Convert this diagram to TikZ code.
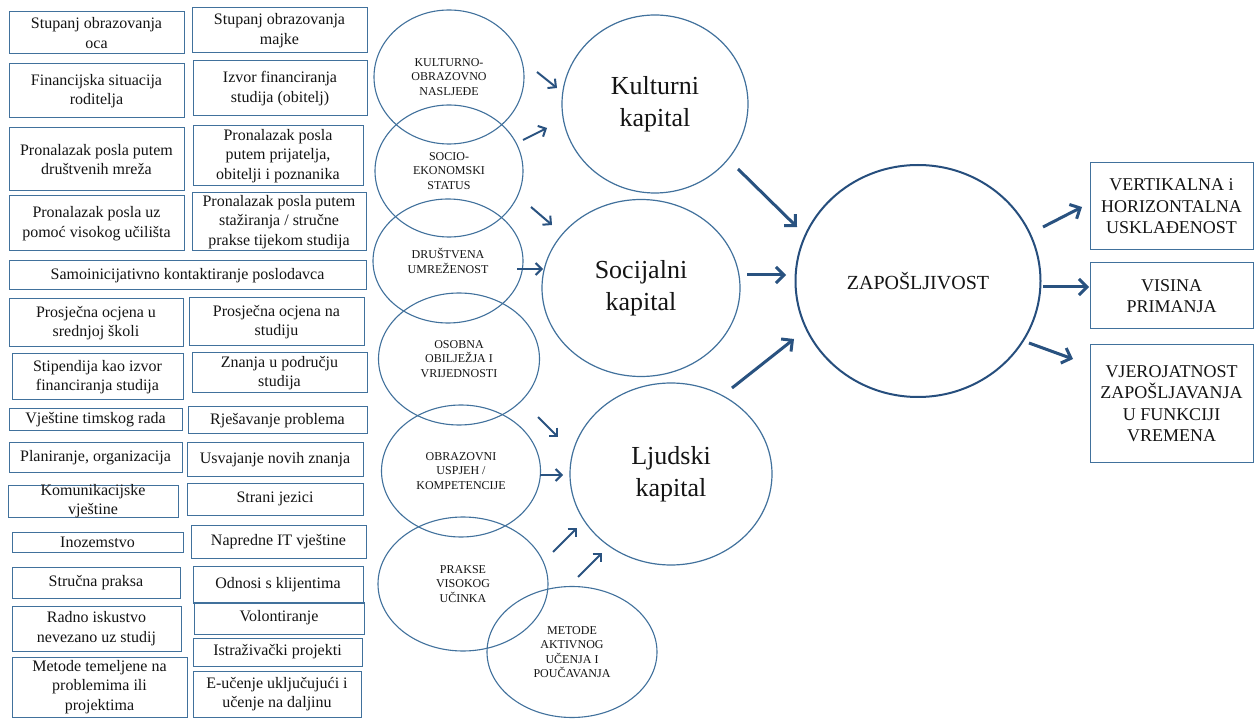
\documentclass[tikz,border=0pt]{standalone}
\usepackage{fontspec}
\setmainfont{Liberation Serif}
\usetikzlibrary{shapes.geometric,arrows.meta}
\definecolor{bordc}{RGB}{65,113,156}
\definecolor{arrc}{RGB}{41,82,128}
\definecolor{zapc}{RGB}{38,78,125}
\definecolor{txtc}{RGB}{20,20,20}
\newcommand\mybox[6]{%
  \pgfmathsetmacro\cx{(#2+#4)/2}\pgfmathsetmacro\cy{(#3+#5)/2}%
  \pgfmathsetmacro\bw{#4-#2}\pgfmathsetmacro\bh{#5-#3}%
  \node[lbox,minimum width=\bw pt,minimum height=\bh pt,label={[ltext]center:{#6}}] (#1) at (\cx,\cy) {};}
\newcommand\mrbox[6]{%
  \pgfmathsetmacro\cx{(#2+#4)/2}\pgfmathsetmacro\cy{(#3+#5)/2}%
  \pgfmathsetmacro\bw{#4-#2}\pgfmathsetmacro\bh{#5-#3}%
  \node[lbox,minimum width=\bw pt,minimum height=\bh pt,label={[rtext]center:{#6}}] (#1) at (\cx,\cy) {};}
\begin{document}
\begin{tikzpicture}[x=1pt,y=-1pt,
  lbox/.style={draw=bordc,line width=1pt,inner sep=0pt,rectangle},
  ltext/.style={inner sep=0pt,align=center,text=txtc,font=\fontsize{16}{19.5}\selectfont},
  rtext/.style={inner sep=0pt,align=center,text=txtc,font=\fontsize{18}{21.5}\selectfont},
  sell/.style={ellipse,draw=bordc,line width=1.1pt,inner sep=0pt,align=center,text=txtc,font=\fontsize{12}{14.5}\selectfont},
  bell/.style={ellipse,draw=bordc,line width=1.2pt,inner sep=0pt,align=center,text=txtc,font=\fontsize{26}{32}\selectfont},
  zell/.style={ellipse,draw=zapc,line width=2pt,inner sep=0pt,align=center,text=txtc,font=\fontsize{20}{24}\selectfont},
  sarr/.style={draw=arrc,line width=2pt,-{Straight Barb[length=6pt,width=12pt]}},
  barr/.style={draw=arrc,line width=3pt,-{Straight Barb[length=8pt,width=16pt]}}]
\fill[white] (0,0) rectangle (1254,719);
\useasboundingbox (0,0) rectangle (1254,719);
% left boxes
\mybox{b1}{9}{12}{184}{54}{Stupanj obrazovanja\\oca}
\mybox{b2}{192}{8}{367}{53}{Stupanj obrazovanja\\majke}
\mybox{b3}{9}{64}{184}{118}{Financijska situacija\\roditelja}
\mybox{b4}{193}{61}{367}{116}{Izvor financiranja\\studija (obitelj)}
\mybox{b5}{9}{128}{184}{191}{Pronalazak posla putem\\društvenih mreža}
\mybox{b6}{193}{126}{363}{186}{Pronalazak posla\\putem prijatelja,\\obitelji i poznanika}
\mybox{b7}{9}{196}{184}{251}{Pronalazak posla uz\\pomoć visokog učilišta}
\mybox{b8}{192}{193}{366}{251}{Pronalazak posla putem\\stažiranja / stručne\\prakse tijekom studija}
\mybox{b9}{9}{261}{366}{290}{Samoinicijativno kontaktiranje poslodavca}
\mybox{b10}{9}{299}{183}{347}{Prosječna ocjena u\\srednjoj školi}
\mybox{b11}{189}{298}{364}{346}{Prosječna ocjena na\\studiju}
\mybox{b12}{12}{354}{183}{400}{Stipendija kao izvor\\financiranja studija}
\mybox{b13}{192}{353}{367}{393}{Znanja u području\\studija}
\mybox{b14}{9}{409}{182}{431}{Vještine timskog rada}
\mybox{b15}{188}{407}{367}{434}{Rješavanje problema}
\mybox{b16}{9}{443}{182}{472}{Planiranje, organizacija}
\mybox{b17}{187}{443}{363}{476}{Usvajanje novih znanja}
\mybox{b18}{8}{485}{178}{517}{Komunikacijske\\vještine}
\mybox{b19}{187}{483}{363}{515}{Strani jezici}
\mybox{b20}{12}{532}{183}{552}{Inozemstvo}
\mybox{b21}{191}{525}{366}{558}{Napredne IT vještine}
\mybox{b22}{12}{567}{180}{598}{Stručna praksa}
\mybox{b23}{193}{566}{363}{603}{Odnosi s klijentima}
\mybox{b24}{12}{606}{181}{651}{Radno iskustvo\\nevezano uz studij}
\mybox{b25}{194}{602}{364}{634}{Volontiranje}
\mybox{b26}{193}{638}{362}{666}{Istraživački projekti}
\mybox{b27}{12}{657}{187}{717}{Metode temeljene na\\problemima ili\\projektima}
\mybox{b28}{193}{671}{361}{717}{E-učenje uključujući i\\učenje na daljinu}
% small ellipses
\node[sell,minimum width=150pt,minimum height=134pt] (e1) at (449,77) {KULTURNO-\\OBRAZOVNO\\NASLJEĐE};
\node[sell,minimum width=148pt,minimum height=132pt] (e2) at (449,171) {SOCIO-\\EKONOMSKI\\STATUS};
\node[sell,minimum width=150pt,minimum height=124pt] (e3) at (448,261) {DRUŠTVENA\\UMREŽENOST};
\node[sell,minimum width=161pt,minimum height=132pt] (e4) at (459,359) {OSOBNA\\OBILJEŽJA I\\VRIJEDNOSTI};
\node[sell,minimum width=159pt,minimum height=132pt] (e5) at (461,471) {OBRAZOVNI\\USPJEH /\\KOMPETENCIJE};
\node[sell,minimum width=170pt,minimum height=134pt] (e6) at (463,584) {PRAKSE\\VISOKOG\\UČINKA};
\node[sell,minimum width=170pt,minimum height=131pt] (e7) at (572,652) {METODE\\AKTIVNOG\\UČENJA I\\POUČAVANJA};
% big circles
\node[bell,minimum width=186pt,minimum height=178pt] (ck) at (655,104) {Kulturni\\kapital};
\node[bell,minimum width=198pt,minimum height=177pt] (cs) at (641,288) {Socijalni\\kapital};
\node[bell,minimum width=202pt,minimum height=182pt] (cl) at (671,474) {Ljudski\\kapital};
\node[zell,minimum width=245pt,minimum height=232pt] (cz) at (918,281) {ZAPOŠLJIVOST};
% right boxes
\mrbox{r1}{1090}{163}{1253}{250}{VERTIKALNA i\\HORIZONTALNA\\USKLAĐENOST}
\mrbox{r2}{1090}{263}{1253}{329}{VISINA\\PRIMANJA}
\mrbox{r3}{1090}{345}{1253}{462}{VJEROJATNOST\\ZAPOŠLJAVANJA\\U FUNKCIJI\\VREMENA}
% arrow end points
\coordinate (a1s) at (537,72);  \coordinate (a1e) at (557,88);
\coordinate (a2s) at (523,140); \coordinate (a2e) at (547,128);
\coordinate (a3s) at (531,207); \coordinate (a3e) at (552,225);
\coordinate (a4s) at (517,269); \coordinate (a4e) at (543,269);
\coordinate (a5s) at (538,417); \coordinate (a5e) at (558,437);
\coordinate (a6s) at (540,475); \coordinate (a6e) at (563,475);
\coordinate (a7s) at (553,552); \coordinate (a7e) at (577,528);
\coordinate (a8s) at (578,577); \coordinate (a8e) at (602,553);
\coordinate (c1s) at (738,169); \coordinate (c1e) at (797,227);
\coordinate (c2s) at (747,275); \coordinate (c2e) at (786,275);
\coordinate (c3s) at (732,388); \coordinate (c3e) at (794,339);
\coordinate (d1s) at (1043,227); \coordinate (d1e) at (1082,207);
\coordinate (d2s) at (1043,287); \coordinate (d2e) at (1089,287);
\coordinate (d3s) at (1029,343); \coordinate (d3e) at (1073,359);
\foreach \i in {1,...,8} {\draw[sarr] (a\i s) -- (a\i e);}
\foreach \i in {1,2,3} {\draw[barr] (c\i s) -- (c\i e); \draw[barr] (d\i s) -- (d\i e);}
\end{tikzpicture}
\end{document}
